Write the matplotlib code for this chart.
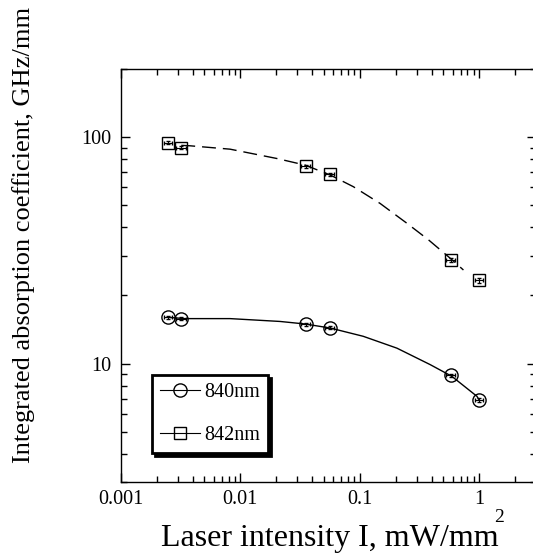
import matplotlib

matplotlib.use("Agg")
import matplotlib.pyplot as plt

# measured points (shared intensities)
intensity = [0.0025, 0.0032, 0.0353, 0.0565, 0.58, 1.0]
intensity_err = [0.0002, 0.0003, 0.003, 0.005, 0.05, 0.08]
coef_840 = [16.0, 15.8, 14.9, 14.4, 8.86, 6.92]
coef_842 = [94.4, 90.0, 74.3, 68.5, 28.7, 23.3]
coef_840_err = [0.25, 0.25, 0.25, 0.25, 0.15, 0.12]
coef_842_err = [1.5, 1.5, 1.3, 1.2, 0.6, 0.5]

# fitted curves
fit_840_x = [0.0025, 0.00344, 0.0082, 0.0215, 0.0348, 0.0565, 0.107, 0.205, 0.389, 0.591, 0.96, 1.0]
fit_840_y = [16.0, 15.8, 15.8, 15.35, 14.96, 14.36, 13.2, 11.7, 9.9, 8.79, 7.17, 6.92]
fit_842_x = [0.0032, 0.00378, 0.0082, 0.0202, 0.0348, 0.0565, 0.0886, 0.148, 0.248, 0.377, 0.573, 0.74]
fit_842_y = [92.0, 91.6, 88.5, 80.5, 75.3, 68.1, 60.4, 51.0, 41.7, 35.2, 29.2, 25.9]

xticks = [0.001, 0.01, 0.1, 1]
xtick_labels = ["0.001", "0.01", "0.1", "1"]
yticks = [10, 100]
ytick_labels = ["10", "100"]

plt.rcParams["font.family"] = ["Liberation Serif", "DejaVu Serif"]

fig = plt.figure(figsize=(5.33, 5.6), dpi=100)
ax = fig.add_axes([0.2270, 0.1393, 0.7786, 0.7375])

ax.plot(fit_840_x, fit_840_y, color="black", lw=1.0)
ax.plot(fit_842_x, fit_842_y, color="black", lw=1.0, dashes=(10, 5))

ax.errorbar(intensity, coef_840, xerr=intensity_err, yerr=coef_840_err,
            fmt="none", ecolor="black", elinewidth=0.8, capsize=1.5)
ax.errorbar(intensity, coef_842, xerr=intensity_err, yerr=coef_842_err,
            fmt="none", ecolor="black", elinewidth=0.8, capsize=1.5)
ax.plot(intensity, coef_840, ls="none", marker="o", ms=9.5, mfc="none",
        mec="black", mew=1.0)
ax.plot(intensity, coef_842, ls="none", marker="s", ms=8.5, mfc="none",
        mec="black", mew=1.0)

# legend handles
h840, = ax.plot([], [], color="black", lw=0.8, marker="o", ms=9.5,
                mfc="none", mec="black", mew=1.0)
h842, = ax.plot([], [], color="black", lw=0.8, marker="s", ms=8.5,
                mfc="none", mec="black", mew=1.0)
leg = ax.legend([h840, h842], ["840nm", "842nm"], loc="upper left",
                bbox_to_anchor=(0.075, 0.259), borderaxespad=0,
                fontsize=14.5, handlelength=2.0, handletextpad=0.2,
                labelspacing=1.2, borderpad=0.4, fancybox=False,
                shadow={"color": "black", "alpha": 1.0})
leg.get_frame().set_edgecolor("black")
leg.get_frame().set_linewidth(2.0)

ax.set_xscale("log")
ax.set_yscale("log")
ax.set_xlim(0.001, 3)
ax.set_ylim(3, 200)
ax.set_xticks(xticks)
ax.set_xticklabels(xtick_labels)
ax.set_yticks(yticks)
ax.set_yticklabels(ytick_labels)
ax.tick_params(which="both", direction="in", top=True, right=True,
               labelsize=14.5, width=1.0)
ax.tick_params(which="major", length=6.5)
ax.tick_params(which="minor", length=4)
ax.tick_params(axis="x", pad=6)
ax.tick_params(axis="y", pad=7)
for s in ax.spines.values():
    s.set_linewidth(1.0)

ax.set_xlabel("Laser intensity I, mW/mm", fontsize=23)
ax.xaxis.set_label_coords(0.502, -0.102)
fig.text(499 / 533, 1 - 518 / 560, "2", fontsize=14, ha="center", va="center")
ax.set_ylabel("Integrated absorption coefficient, GHz/mm", fontsize=19)
ax.yaxis.set_label_coords(-0.207, 0.598)

fig.savefig("out.png", dpi=100)
